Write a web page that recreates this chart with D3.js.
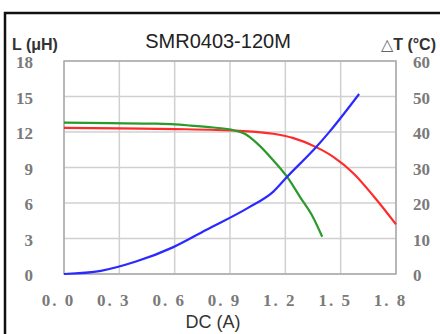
<!DOCTYPE html>
<html>
<head>
<meta charset="utf-8">
<script src="https://cdn.jsdelivr.net/npm/d3@7"></script>
<style>
  body { margin: 0; background: #fff; }
  svg { display: block; }
  .tick text { font-family: "Liberation Serif", "DejaVu Serif", serif; font-weight: bold; fill: #7a7a7a; font-size: 17px; }
</style>
</head>
<body>
<div id="chart"></div>
<script>
// ---------------- DATA ----------------
var xTicks = [0, 0.3, 0.6, 0.9, 1.2, 1.5, 1.8];
var leftTicks = [0, 3, 6, 9, 12, 15, 18];
var rightTicks = [0, 10, 20, 30, 40, 50, 60];

// inductance, green curve (L vs DC)
var greenX = [0, 0.25, 0.5, 0.68, 0.81, 0.92, 0.98, 1.05, 1.135, 1.21, 1.28, 1.35, 1.40];
var greenL = [12.8, 12.75, 12.7, 12.55, 12.38, 12.15, 11.85, 11.0, 9.6, 8.2, 6.5, 4.8, 3.15];

// inductance, red curve
var redX = [0, 0.3, 0.6, 0.95, 1.135, 1.24, 1.37, 1.46, 1.57, 1.68, 1.8];
var redL = [12.35, 12.3, 12.25, 12.1, 11.85, 11.5, 10.7, 9.9, 8.5, 6.55, 4.2];

// temperature rise, blue curve (right axis)
var blueX = [0, 0.2, 0.39, 0.59, 0.77, 1.0, 1.135, 1.21, 1.37, 1.44, 1.6];
var blueT = [0, 0.9, 3.5, 7.5, 12.4, 18.7, 23.2, 27.4, 35.9, 40.1, 50.7];

// ---------------- CANVAS ----------------
var svgWidth = 440, svgHeight = 334;
var margin = {left: 64, top: 61, right: 44, bottom: 60};
var chartWidth = 396 - margin.left,
    chartHeight = 274 - margin.top;

var svg = d3.select("#chart").append("svg")
  .attr("width", svgWidth)
  .attr("height", svgHeight);

// outer black frame
svg.append("rect")
  .attr("x", 5).attr("y", 13)
  .attr("width", 460).attr("height", 340)
  .attr("fill", "none")
  .attr("stroke", "#111")
  .attr("stroke-width", 2.5);

var chart = svg.append("g")
  .attr("transform", `translate(${margin.left}, ${margin.top})`);

// ---------------- SCALES ----------------
var x = d3.scaleLinear().domain([0, 1.8]).range([0, chartWidth]);
var yL = d3.scaleLinear().domain([0, 18]).range([chartHeight, 0]);
var yT = d3.scaleLinear().domain([0, 60]).range([chartHeight, 0]);

// ---------------- GRID ----------------
chart.append("g")
  .selectAll("line")
  .data(xTicks)
  .enter().append("line")
    .attr("x1", d => x(d)).attr("x2", d => x(d))
    .attr("y1", 0).attr("y2", chartHeight)
    .attr("stroke", "#d0d0d0").attr("stroke-width", 1.5);

chart.append("g")
  .selectAll("line")
  .data(leftTicks)
  .enter().append("line")
    .attr("x1", 0).attr("x2", chartWidth)
    .attr("y1", d => yL(d)).attr("y2", d => yL(d))
    .attr("stroke", "#d0d0d0").attr("stroke-width", 1.5);

chart.append("rect")
  .attr("width", chartWidth).attr("height", chartHeight)
  .attr("fill", "none").attr("stroke", "#aaa").attr("stroke-width", 1.5);

// ---------------- AXES ----------------
var leftAxis = chart.append("g")
  .call(d3.axisLeft(yL).tickValues(leftTicks).tickSize(0).tickPadding(31));
var rightAxis = chart.append("g")
  .attr("transform", `translate(${chartWidth}, 0)`)
  .call(d3.axisRight(yT).tickValues(rightTicks).tickSize(0).tickPadding(17));
var bottomAxis = chart.append("g")
  .attr("transform", `translate(0, ${chartHeight})`)
  .call(d3.axisBottom(x).tickValues(xTicks).tickSize(0).tickPadding(20)
    .tickFormat(d => d.toFixed(1).replace(".", ". ")));

[leftAxis, rightAxis, bottomAxis].forEach(function(a) {
  a.select(".domain").remove();
});
leftAxis.selectAll("text").attr("dy", "0.4em");
rightAxis.selectAll("text").attr("dy", "0.4em");
bottomAxis.selectAll("text")
  .attr("dx", -6)
  .style("letter-spacing", "2px");

// ---------------- LINES ----------------
function drawLine(xs, ys, yScale, color) {
  var pts = xs.map((v, i) => [v, ys[i]]);
  chart.append("path")
    .datum(pts)
    .attr("fill", "none")
    .attr("stroke", color)
    .attr("stroke-width", 2.2)
    .attr("d", d3.line()
      .x(d => x(d[0]))
      .y(d => yScale(d[1]))
      .curve(d3.curveMonotoneX));
}
drawLine(redX, redL, yL, "#ff2a2a");
drawLine(greenX, greenL, yL, "#2a9a2a");
drawLine(blueX, blueT, yT, "#2a2aff");

// ---------------- TITLES ----------------
svg.append("text")
  .attr("x", 218).attr("y", 48)
  .attr("text-anchor", "middle")
  .style("font-family", "Liberation Sans, Arial, sans-serif")
  .style("font-size", "20px")
  .style("fill", "#222")
  .text("SMR0403-120M");

svg.append("text")
  .attr("x", 12).attr("y", 50)
  .style("font-family", "Liberation Sans, Arial, sans-serif")
  .style("font-size", "16px")
  .style("font-weight", "bold")
  .style("fill", "#333")
  .text("L (μH)");

var tLabel = svg.append("text")
  .attr("x", 436).attr("y", 50)
  .attr("text-anchor", "end")
  .style("font-family", "Liberation Sans, Arial, sans-serif")
  .style("font-size", "16px")
  .style("fill", "#333");
tLabel.append("tspan").style("font-weight", "normal").style("fill", "#666").text("△");
tLabel.append("tspan").style("font-weight", "bold").text("T (°C)");

svg.append("text")
  .attr("x", 213).attr("y", 328)
  .attr("text-anchor", "middle")
  .style("font-family", "Liberation Sans, Arial, sans-serif")
  .style("font-size", "18px")
  .style("fill", "#333")
  .text("DC (A)");
</script>
</body>
</html>
